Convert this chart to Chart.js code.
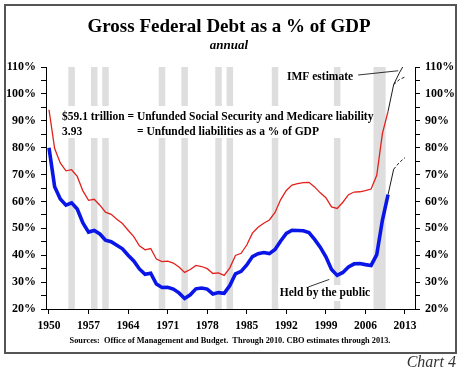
<!DOCTYPE html>
<html>
<head>
<meta charset="utf-8">
<script src="https://cdn.jsdelivr.net/npm/chart.js@4"></script>
<style>
  html, body { margin: 0; padding: 0; background: #fff; }
  #wrap { width: 468px; height: 373px; }
</style>
</head>
<body>
<div id="wrap"><canvas id="debtChart" width="468" height="373"></canvas></div>
<script>

// Gross federal debt and debt held by the public, % of GDP (OMB, annual)

const years = [
    1950, 1951, 1952, 1953, 1954, 1955, 1956, 1957, 1958, 1959,
    1960, 1961, 1962, 1963, 1964, 1965, 1966, 1967, 1968, 1969,
    1970, 1971, 1972, 1973, 1974, 1975, 1976, 1977, 1978, 1979,
    1980, 1981, 1982, 1983, 1984, 1985, 1986, 1987, 1988, 1989,
    1990, 1991, 1992, 1993, 1994, 1995, 1996, 1997, 1998, 1999,
    2000, 2001, 2002, 2003, 2004, 2005, 2006, 2007, 2008, 2009,
    2010
];

const grossDebt = [
    94.1, 79.7, 74.3, 71.4, 71.8, 69.3, 63.9, 60.4, 60.8, 58.6,
    56.0, 55.2, 53.4, 51.8, 49.3, 46.9, 43.5, 42.0, 42.5, 38.6,
    37.6, 37.8, 37.1, 35.6, 33.6, 34.7, 36.2, 35.8, 35.0, 33.2,
    33.4, 32.5, 35.3, 39.9, 40.7, 43.8, 48.2, 50.4, 51.9, 53.1,
    55.9, 60.7, 64.1, 66.1, 66.6, 67.0, 67.1, 65.4, 63.2, 61.4,
    58.0, 57.4, 59.7, 62.5, 63.5, 63.6, 64.0, 64.6, 69.7, 85.2,
    93.5
];

const publicDebt = [
    80.0, 65.5, 60.9, 58.6, 59.5, 57.2, 52.0, 48.6, 49.2, 47.9,
    45.6, 45.0, 43.7, 42.4, 40.0, 37.9, 34.9, 32.9, 33.3, 29.3,
    28.0, 28.1, 27.4, 26.0, 23.9, 25.3, 27.5, 27.8, 27.4, 25.6,
    26.1, 25.8, 28.7, 33.1, 34.0, 36.4, 39.5, 40.6, 41.0, 40.6,
    42.1, 45.3, 48.1, 49.3, 49.2, 49.1, 48.4, 45.9, 43.0, 39.4,
    34.7, 32.5, 33.6, 35.6, 36.8, 36.9, 36.5, 36.2, 40.2, 53.0,
    62.5
];

// CBO / IMF estimates
const projYears = [2010, 2011, 2012, 2013];
const grossCbo = [93.5, 103.5, 105.3, 106.3];
const publicCbo = [62.5, 72.0, 74.5, 76.3];

const imfYears = [2011, 2012, 2013];
const grossImf = [103.5, 107.8, 111.5];

// recession years (shaded)
const recessionYears = [1954, 1958, 1960, 1970, 1974, 1980, 1982, 1990, 2001, 2008, 2009];

const xTickYears = [1950, 1957, 1964, 1971, 1978, 1985, 1992, 1999, 2006, 2013];

const yMin = 20;
const yMax = 110;


const serif = "'Liberation Serif', 'Times New Roman', serif";

function toPoints(xs, ys) {
    return xs.map((x, i) => ({ x: x, y: ys[i] }));
}


// Titles, notes, frame

const decorations = {
    id: "decorations",

    afterDatasetsDraw(chart) {
        const ctx = chart.ctx;
        const xs = chart.scales.x;
        const ys = chart.scales.y;

        ctx.save();

        // unfunded liabilities note
        ctx.fillStyle = "#fff";
        ctx.fillRect(58, 106, 315, 32);
        ctx.fillStyle = "#000";
        ctx.font = "bold 11.5px " + serif;
        ctx.textBaseline = "middle";
        ctx.textAlign = "left";
        ctx.fillText("$59.1 trillion = Unfunded Social Security and Medicare liability", 62, 117);
        ctx.fillText("3.93", 62, 132);
        ctx.fillText("= Unfunded liabilities as a % of GDP", 137, 132);

        // IMF estimate label + leader
        ctx.fillText("IMF estimate", 287, 77);
        const imfEnd = 287 + ctx.measureText("IMF estimate").width + 5;
        ctx.strokeStyle = "#000";
        ctx.lineWidth = 0.8;
        ctx.beginPath();
        ctx.moveTo(imfEnd, 75);
        ctx.lineTo(xs.getPixelForValue(2011.8), ys.getPixelForValue(108.6));
        ctx.stroke();

        // held by the public label + leader
        ctx.fillStyle = "#fff";
        ctx.fillRect(278, 285, 94, 16);
        ctx.fillStyle = "#000";
        ctx.textAlign = "center";
        ctx.fillText("Held by the public", 325, 293);
        ctx.beginPath();
        ctx.moveTo(xs.getPixelForValue(1995.9), ys.getPixelForValue(28.2));
        ctx.lineTo(xs.getPixelForValue(1999.6), ys.getPixelForValue(31.0));
        ctx.stroke();

        ctx.restore();
    },

    afterDraw(chart) {
        const ctx = chart.ctx;
        ctx.save();
        ctx.fillStyle = "#000";
        ctx.textAlign = "center";
        ctx.textBaseline = "alphabetic";

        ctx.font = "bold 19px " + serif;
        ctx.fillText("Gross Federal Debt as a % of GDP", 229, 32);

        ctx.font = "italic bold 13px " + serif;
        ctx.fillText("annual", 229, 49);

        ctx.font = "bold 8.3px " + serif;
        ctx.fillText("Sources:  Office of Management and Budget.  Through 2010. CBO estimates through 2013.", 230, 343);

        // frame
        ctx.strokeStyle = "#555";
        ctx.lineWidth = 2;
        ctx.strokeRect(5, 5, 451, 348);

        ctx.font = "italic 16px " + serif;
        ctx.fillStyle = "#333";
        ctx.textAlign = "right";
        ctx.fillText("Chart 4", 456, 367);
        ctx.restore();
    }
};


const yFont = { family: serif, size: 12, weight: "bold" };
const xFont = { family: serif, size: 11.5, weight: "bold" };

function pctLabel(v) {
    return v % 10 === 0 ? v + "%" : "";
}

new Chart(document.getElementById("debtChart"), {

    type: "line",

    data: {
        datasets: [
            {
                type: "bar",
                label: "Recession",
                data: recessionYears.map(yr => ({ x: yr, y: [yMin, yMax] })),
                backgroundColor: "#dedede",
                barPercentage: 1.15,
                categoryPercentage: 1,
                grouped: false,
                order: 10
            },
            {
                label: "Gross federal debt",
                data: toPoints(years, grossDebt),
                borderColor: "#e3211c",
                borderWidth: 1.3,
                pointRadius: 0,
                tension: 0,
                order: 2
            },
            {
                label: "Held by the public",
                data: toPoints(years, publicDebt),
                borderColor: "#0a16e8",
                borderWidth: 3.6,
                pointRadius: 0,
                tension: 0,
                order: 1
            },
            {
                label: "Gross, CBO estimate",
                data: toPoints(projYears, grossCbo),
                borderColor: "#000",
                borderWidth: 0.9,
                pointRadius: 0,
                segment: {
                    borderDash: c => c.p0DataIndex === 0 ? [] : [3, 2]
                },
                order: 0
            },
            {
                label: "Gross, IMF estimate",
                data: toPoints(imfYears, grossImf),
                borderColor: "#000",
                borderWidth: 0.9,
                pointRadius: 0,
                order: 0
            },
            {
                label: "Public, CBO estimate",
                data: toPoints(projYears, publicCbo),
                borderColor: "#000",
                borderWidth: 0.9,
                pointRadius: 0,
                segment: {
                    borderDash: c => c.p0DataIndex === 0 ? [] : [3, 2]
                },
                order: 0
            }
        ]
    },

    options: {
        responsive: false,
        animation: false,
        layout: { padding: { top: 67, left: 0, right: 0, bottom: 0 } },
        plugins: {
            legend: { display: false },
            tooltip: { enabled: false }
        },
        scales: {
            x: {
                type: "linear",
                offset: false,
                min: 1949.47,
                max: 2014.77,
                afterBuildTicks: scale => {
                    scale.ticks = xTickYears.map(v => ({ value: v }));
                },
                afterFit: scale => { scale.height = 64; },
                grid: {
                    offset: false,
                    drawOnChartArea: false,
                    drawTicks: true,
                    tickLength: 5,
                    color: "#000"
                },
                border: { display: true, color: "#000", width: 1, z: 1 },
                ticks: {
                    autoSkip: false,
                    maxRotation: 0,
                    padding: 5,
                    color: "#000",
                    font: xFont,
                    callback: v => String(v)
                }
            },
            y: {
                position: "left",
                min: yMin,
                max: yMax,
                afterFit: scale => { scale.width = 46; },
                grid: {
                    drawOnChartArea: false,
                    drawTicks: true,
                    tickLength: 5,
                    color: "#000"
                },
                border: { display: true, color: "#000", width: 1, z: 1 },
                ticks: {
                    stepSize: 5,
                    autoSkip: false,
                    padding: 5,
                    color: "#000",
                    font: yFont,
                    callback: pctLabel
                }
            },
            y2: {
                position: "right",
                min: yMin,
                max: yMax,
                afterFit: scale => { scale.width = 53; },
                grid: {
                    drawOnChartArea: false,
                    drawTicks: true,
                    tickLength: 5,
                    color: "#000"
                },
                border: { display: true, color: "#000", width: 1, z: 1 },
                ticks: {
                    stepSize: 5,
                    autoSkip: false,
                    padding: 5,
                    color: "#000",
                    font: yFont,
                    callback: pctLabel
                }
            }
        }
    },

    plugins: [decorations]

});

</script>
</body>
</html>
